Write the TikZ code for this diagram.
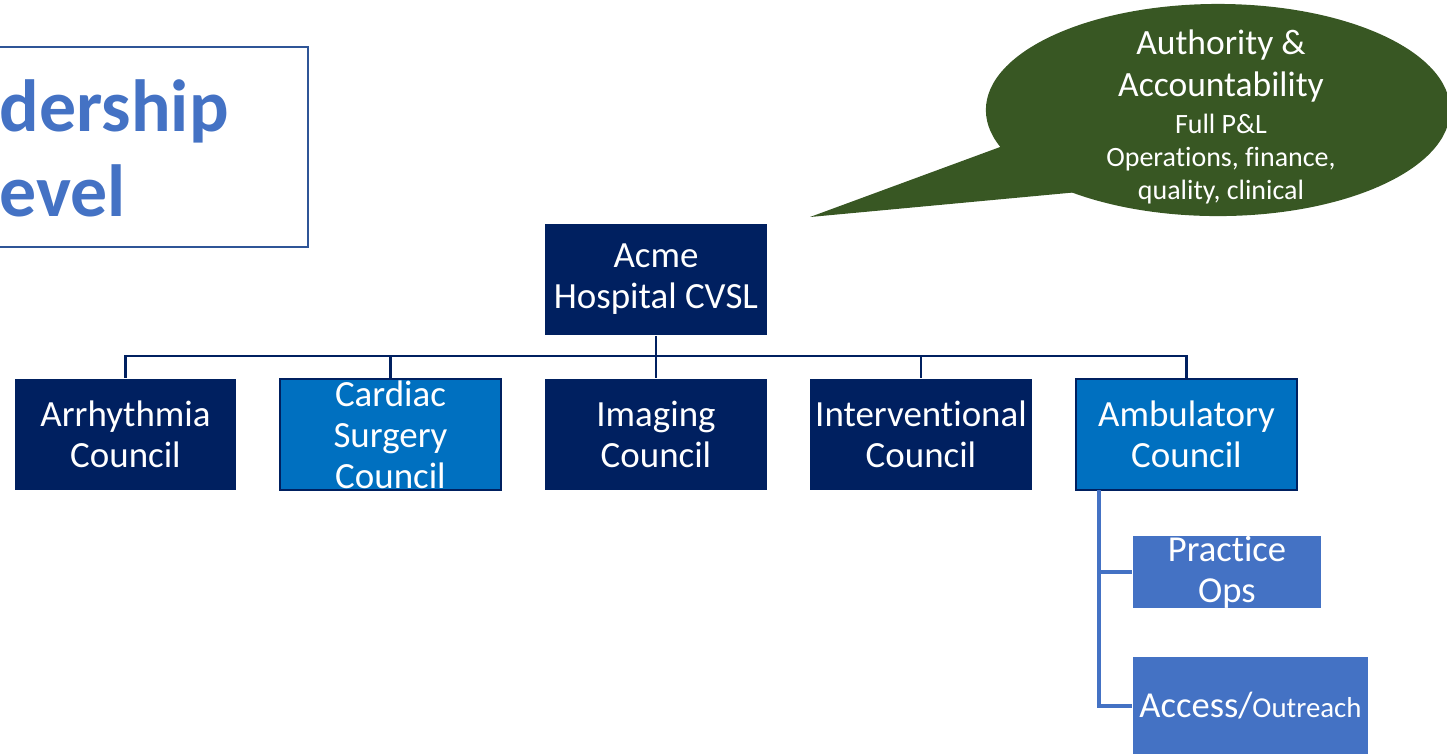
\documentclass[tikz,border=0pt]{standalone}
\usepackage{fontspec}
\setmainfont{Carlito}[RawFeature={-liga;-clig;-calt;-dlig}]
\usetikzlibrary{shapes.geometric}
\definecolor{navy}{RGB}{0,32,96}
\definecolor{midblue}{RGB}{0,112,192}
\definecolor{accentblue}{RGB}{68,114,196}
\definecolor{frameblue}{RGB}{47,85,151}
\definecolor{leafgreen}{RGB}{56,87,35}
\tikzset{
  council/.style={rectangle, minimum width=2.21cm, minimum height=1.11cm, inner sep=0pt,
    align=center, text=white, font=\fontsize{10.5}{11.7}\selectfont},
  darkcouncil/.style={council, fill=navy},
  lightcouncil/.style={council, fill=midblue, draw=navy, line width=0.6pt},
  subunit/.style={rectangle, inner sep=0pt, align=center, text=white, fill=accentblue,
    font=\fontsize{10.4}{11.7}\selectfont},
  orgline/.style={draw=navy, line width=0.7pt},
  subline/.style={draw=accentblue, line width=0.9pt},
}

\begin{document}
\begin{tikzpicture}[x=0.01cm,y=-0.01cm]
  \useasboundingbox (0,0) rectangle (1447,753);
  % title box
  \draw[frameblue, line width=0.6pt] (-10,47) rectangle (308,247);
  \node (title) [anchor=west, align=left, inner sep=0pt, text=accentblue,
    font=\fontsize{21}{24.2}\selectfont\bfseries] at (-1,148) {dership\\evel};
  % callout
  \coordinate (tip) at (810,217);
  \fill[leafgreen] (tip) -- (1030,136) -- (1100,190) -- cycle;
  \node (callout) [ellipse, fill=leafgreen, inner sep=0pt, minimum width=4.64cm,
    minimum height=2.12cm] at (1218,110) {};
  \node (callhead) [align=center, text=white, inner sep=0pt,
    font=\fontsize{10.1}{12.2}\selectfont] at (1221,66) {Authority \&\\Accountability};
  \node (calldetail) [align=center, text=white, inner sep=0pt,
    font=\fontsize{7.95}{9.4}\selectfont] at (1221,159) {Full P\&L\\Operations, finance,\\quality, clinical};
  % top and councils
  \node (acme) [darkcouncil] at (656,279.5) {Acme\\Hospital CVSL};
  \node (arrhythmia) [darkcouncil] at (125.5,434.5) {Arrhythmia\\Council};
  \node (cardiac) [lightcouncil] at (390.5,434.5) {Cardiac\\Surgery\\Council};
  \node (imaging) [darkcouncil] at (656,434.5) {Imaging\\Council};
  \node (interventional) [darkcouncil] at (921,434.5) {Interventional\\Council};
  \node (ambulatory) [lightcouncil] at (1186.5,434.5) {Ambulatory\\Council};
  % ambulatory units
  \node (practice) [subunit, minimum width=1.88cm, minimum height=0.70cm] at (1227,572) {Practice\\Ops};
  \node (access) [subunit, minimum width=2.35cm, minimum height=0.98cm] at (1250.5,706)
    {Access/{\fontsize{8.2}{9.8}\selectfont Outreach}};
  % org lines
  \coordinate (bus) at (656,356);
  \draw[orgline] (acme) -- (bus);
  \foreach \n in {arrhythmia,cardiac,imaging,interventional,ambulatory}
    \draw[orgline] (bus) -| (\n.north);
  \coordinate (trunk) at (1099,490);
  \draw[subline] (trunk) |- (practice.west);
  \draw[subline] (trunk) |- (access.west);
\end{tikzpicture}
\end{document}
